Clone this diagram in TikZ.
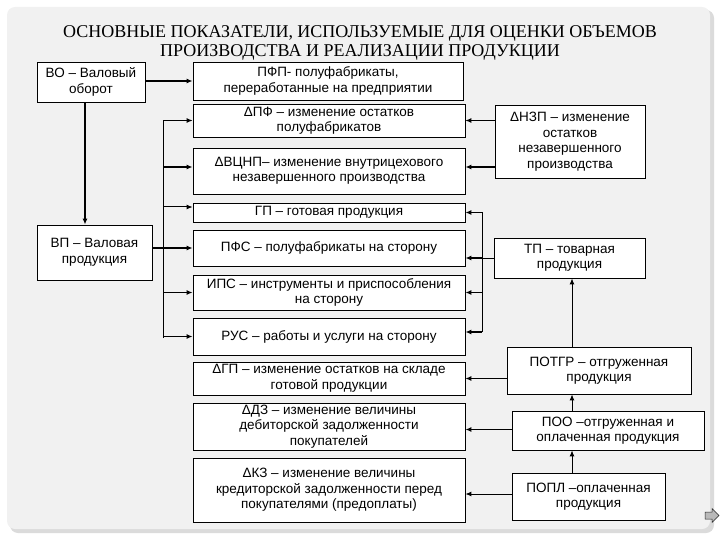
\documentclass[tikz,border=0pt]{standalone}
\usepackage{fontspec}
\setmainfont{Liberation Sans}
\newfontfamily\titlefont{Liberation Serif}
\usetikzlibrary{arrows.meta}
\newcommand\boxfont{\fontsize{13.5}{15.5}\selectfont}
\begin{document}
\begin{tikzpicture}[x=1pt,y=-1pt,
  box/.style={draw, fill=white, line width=0.8pt, font=\boxfont, align=center, inner sep=0pt},
  conn/.style={line width=1pt, -{Latex[length=6pt,width=5pt]}},
  thickconn/.style={line width=1.8pt, -{Latex[length=6pt,width=5pt]}},
  plainline/.style={line width=1pt},
  thickline/.style={line width=1.8pt}]
\useasboundingbox (0,0) rectangle (720,540);
% panel
\fill[gray!28, rounded corners=8pt] (10,10) rectangle (714,533);
\fill[gray!11, rounded corners=8pt] (7,7) rectangle (710,529);
% title
\node[font=\titlefont\fontsize{18}{19.5}\selectfont, align=center] (title) at (360,43)
  {ОСНОВНЫЕ ПОКАЗАТЕЛИ, ИСПОЛЬЗУЕМЫЕ ДЛЯ ОЦЕНКИ ОБЪЕМОВ\\ПРОИЗВОДСТВА И РЕАЛИЗАЦИИ ПРОДУКЦИИ};
% left column
\node[box, minimum width=108pt, minimum height=40pt] (BO) at (91,82) {ВО – Валовый\\оборот};
\node[box, minimum width=115pt, minimum height=55pt] (VP) at (94.5,252.5) {ВП – Валовая\\продукция};
% middle column
\node[box, minimum width=270pt, minimum height=38pt] (PFP) at (328,81) {ПФП- полуфабрикаты,\\переработанные на предприятии};
\node[box, minimum width=272pt, minimum height=33pt] (dPF) at (329,120.5) {ΔПФ – изменение остатков\\полуфабрикатов};
\node[box, minimum width=272pt, minimum height=46pt] (dVCNP) at (329,171) {ΔВЦНП– изменение внутрицехового\\незавершенного производства};
\node[box, minimum width=272pt, minimum height=19pt] (GP) at (329,212.5) {ГП – готовая продукция};
\node[box, minimum width=272pt, minimum height=36pt] (PFS) at (329,248) {ПФС – полуфабрикаты на сторону};
\node[box, minimum width=272pt, minimum height=35pt] (IPS) at (329,292.5) {ИПС – инструменты и приспособления\\на сторону};
\node[box, minimum width=272pt, minimum height=37pt] (RUS) at (329,336.5) {РУС – работы и услуги на сторону};
\node[box, minimum width=272pt, minimum height=33pt] (dGP) at (329,378.5) {ΔГП – изменение остатков на складе\\готовой продукции};
\node[box, minimum width=272pt, minimum height=47pt] (dDZ) at (329,426.5) {ΔДЗ – изменение  величины\\дебиторской задолженности\\покупателей};
\node[box, minimum width=272pt, minimum height=64pt] (dKZ) at (329,490) {ΔКЗ – изменение  величины\\кредиторской задолженности перед\\покупателями (предоплаты)};
% right column
\node[box, minimum width=150pt, minimum height=73pt] (dNZP) at (570,141.5) {ΔНЗП – изменение\\остатков\\незавершенного\\производства};
\node[box, minimum width=151pt, minimum height=40pt] (TP) at (569.5,258) {ТП – товарная\\продукция};
\node[box, minimum width=184pt, minimum height=47pt] (POTGR) at (599,370.5) {ПОТГР – отгруженная\\продукция};
\node[box, minimum width=192pt, minimum height=39pt] (POO) at (608,430.5) {ПОО –отгруженная и\\оплаченная продукция};
\node[box, minimum width=153pt, minimum height=47pt] (POPL) at (588.5,496.5) {ПОПЛ –оплаченная\\продукция};
% helper coordinates
\coordinate (busL) at (163,0);
\coordinate (busR) at (482,0);
\coordinate (colx) at (572,0);
% connectors from the left
\draw[thickconn] (BO.east |- PFP.west) -- (PFP.west);
\draw[thickconn] ([xshift=-6pt]BO.south) -- ([xshift=-6pt]BO.south |- VP.north);
\draw[thickconn] (VP.east |- PFS.west) -- (PFS.west);
\draw[plainline] (busL |- dPF.west) -- ([yshift=-1pt]busL |- RUS.west);
\draw[conn] (busL |- dPF.west) -- (dPF.west);
\draw[thickconn] ([yshift=4pt]busL |- dVCNP.west) -- ([yshift=4pt]dVCNP.west);
\draw[conn] ([yshift=5.5pt]busL |- GP.west) -- ([yshift=5.5pt]GP.west);
\draw[thickconn] (busL |- IPS.west) -- (IPS.west);
\draw[thickconn] (busL |- RUS.west) -- (RUS.west);
% connectors from the right
\draw[conn] (dNZP.west |- dPF.east) -- (dPF.east);
\draw[thickconn] ([yshift=4pt]dNZP.west |- dVCNP.east) -- ([yshift=4pt]dVCNP.east);
\draw[plainline] (busR |- GP.east) -- ([yshift=4.5pt]busR |- RUS.east);
\draw[plainline] (TP.west) -- (busR |- TP.west);
\draw[thickconn] (busR |- GP.east) -- (GP.east);
\draw[thickconn] (busR |- TP.west) -- (PFS.east |- TP.west);
\draw[thickconn] (busR |- IPS.east) -- (IPS.east);
\draw[thickconn] ([yshift=4.5pt]busR |- RUS.east) -- ([yshift=4.5pt]RUS.east);
\draw[conn] (colx |- POTGR.north) -- (colx |- TP.south);
\draw[conn] (POTGR.west |- dGP.east) -- (dGP.east);
\draw[conn] (colx |- POO.north) -- (colx |- POTGR.south);
\draw[thickconn] ([yshift=-3pt]POO.west |- dDZ.east) -- ([yshift=-3pt]dDZ.east);
\draw[conn] (colx |- POPL.north) -- (colx |- POO.south);
\draw[conn] ([yshift=-4pt]POPL.west |- dKZ.east) -- ([yshift=-4pt]dKZ.east);
% navigation arrow
\draw[fill=gray!55, draw=gray!30!black, line width=0.5pt]
  (705,512) -- (712,512) -- (712,508.5) -- (719,515.5) -- (712,522.5) -- (712,519) -- (705,519) -- cycle;
\end{tikzpicture}
\end{document}
